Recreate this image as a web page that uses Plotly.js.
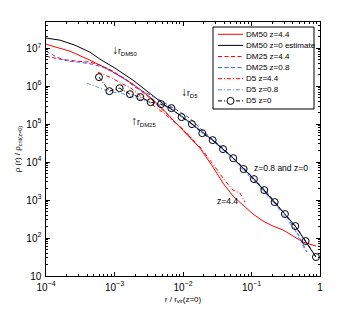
<!DOCTYPE html>
<html><head><meta charset="utf-8">
<script src="https://cdn.plot.ly/plotly-3.0.1.min.js"></script>
<style>html,body{margin:0;padding:0;background:#fff}#c{width:353px;height:311px}</style>
</head><body><div id="c"></div>
<script>
// ---- data (r / r_vir(z=0), rho / rho_crit(z=0)) ----
const dm50z44_x = [1e-4,2.24e-4,4.39e-4,8.59e-4,1.86e-3,3.30e-3,4.61e-3,1.0e-2,1.77e-2,2.74e-2,3.84e-2,5.37e-2,7.52e-2,0.1052,0.1472,0.2061,0.2884,0.4036,0.5649,0.875];
const dm50z44_y = [1.27e7,8.34e6,4.83e6,2.64e6,1.13e6,5.14e5,2.98e5,6.95e4,2.33e4,7.38e3,2.80e3,1.27e3,7.38e2,4.29e2,2.80e2,2.07e2,1.63e2,1.13e2,78.5,61.5];

const dm50z0_x = [1e-4,1.6e-4,2.65e-4,4.39e-4,6.14e-4,1.02e-3,1.86e-3,3.30e-3,5.46e-3,9.04e-3,1.37e-2,2.71e-2,5.42e-2,0.1086,0.2178,0.4355,0.873];
const dm50z0_y = [1.85e7,1.63e7,1.20e7,7.85e6,5.14e6,2.98e6,1.44e6,6.55e5,3.16e5,1.73e5,1.0e5,3.79e4,1.27e4,3.57e3,8.85e2,2.07e2,31.6];

const dm25z44_x = [1e-4,1.6e-4,2.84e-4,4.39e-4,6.14e-4,8.89e-4,1.38e-3,1.93e-3,3.30e-3,5.46e-3,1.0e-2,1.50e-2];
const dm25z44_y = [6.15e6,5.14e6,4.55e6,4.29e6,3.57e6,2.64e6,1.63e6,1.06e6,4.83e5,2.07e5,6.95e4,3.36e4];

const dm25z08_x = [1e-4,1.45e-4,2.09e-4,3.13e-4,4.70e-4,6.79e-4,9.50e-4,1.42e-3,1.99e-3,2.79e-3,4.61e-3,8.17e-3,1.26e-2,1.96e-2,3.84e-2,7.78e-2,0.1574,0.3083,0.4613,0.6457];
const dm25z08_y = [8.34e6,5.79e6,4.55e6,4.29e6,3.79e6,3.16e6,2.33e6,1.53e6,9.42e5,6.95e5,4.29e5,2.33e5,1.44e5,6.55e4,2.33e4,6.95e3,1.83e3,4.29e2,1.44e2,42.9];

const d5z44_x = [5.74e-4,9.20e-4,1.24e-3,1.74e-3,2.44e-3,3.52e-3,5.46e-3,1.0e-2,1.77e-2,2.74e-2,3.84e-2,5.37e-2,6.79e-2,8.04e-2];
const d5z44_y = [2.33e6,1.63e6,1.20e6,8.85e5,5.46e5,3.36e5,1.83e5,7.38e4,2.48e4,8.85e3,3.79e3,1.83e3,1.53e3,8.85e2];

const d5z08_x = [3.97e-4,6.35e-4,8.89e-4,1.24e-3,1.74e-3,2.44e-3,3.52e-3,4.93e-3,6.90e-3,9.66e-3,1.40e-2,2.74e-2,5.37e-2,0.1086,0.2203,0.4315,0.6252];
const d5z08_y = [1.20e6,8.85e5,6.95e5,6.55e5,5.46e5,4.55e5,3.57e5,3.16e5,2.48e5,1.53e5,9.42e4,3.57e4,1.20e4,3.16e3,7.85e2,1.63e2,42.9];

const d5z0_x = [5.94e-4,8.41e-4,1.19e-3,1.68e-3,2.38e-3,3.37e-3,4.78e-3,6.76e-3,9.55e-3,1.35e-2,1.91e-2,2.71e-2,3.84e-2,5.42e-2,7.67e-2,0.1086,0.1538,0.2178,0.3076,0.4355,0.6166,0.873];
const d5z0_y = [1.73e6,7.38e5,8.85e5,6.15e5,5.14e5,3.79e5,3.36e5,2.64e5,1.53e5,1.0e5,5.79e4,3.79e4,2.20e4,1.27e4,6.55e3,3.57e3,1.83e3,8.85e2,4.29e2,2.07e2,83.4,31.6];

const seriesNames = ['DM50 z=4.4','DM50 z=0 estimate','DM25 z=4.4','DM25 z=0.8','D5 z=4.4','D5 z=0.8','D5 z=0'];

// ---- styles ----
const DASH = '4px,2.5px';
const DASHDOT = '4px,2px,1px,2px';
const styles = [
  {color:'#ff0000', dash:'solid'},
  {color:'#000000', dash:'solid'},
  {color:'#ff0000', dash:DASH},
  {color:'#3355ff', dash:DASH},
  {color:'#ff0000', dash:DASHDOT},
  {color:'#6688ff', dash:DASHDOT},
  {color:'#000000', dash:DASHDOT, marker:true}
];
const xs = [dm50z44_x,dm50z0_x,dm25z44_x,dm25z08_x,d5z44_x,d5z08_x,d5z0_x];
const ys = [dm50z44_y,dm50z0_y,dm25z44_y,dm25z08_y,d5z44_y,d5z08_y,d5z0_y];

const traces = seriesNames.map((n,i)=>{
  const s = styles[i];
  const t = {x:xs[i], y:ys[i], name:n, type:'scatter', showlegend:false,
    mode: s.marker ? 'lines+markers' : 'lines',
    line:{color:s.color, width:1, dash:s.dash}};
  if (s.marker) t.marker = {symbol:'circle-open', size:7, color:'#000', line:{width:1, color:'#000'}};
  return t;
});

// ---- layout geometry ----
const W=353,H=311, L=46, R=33, T=22, B=35;
const pw = W-L-R, ph = H-T-B;
const xp = px => (px-L)/pw;
const yp = py => (H-B-py)/ph;
const FONT = 'Liberation Sans, Arial, Helvetica, sans-serif';

// manual legend (drawn as shapes + text)
const shapes = [];
const annotations = [];
shapes.push({type:'rect', xref:'paper', yref:'paper', x0:xp(213), x1:xp(314), y0:yp(109), y1:yp(27),
  line:{color:'#000', width:1}, fillcolor:'#fff', layer:'above'});
seriesNames.forEach((n,i)=>{
  const s = styles[i];
  const cy = 34.3 + i*11.1;
  shapes.push({type:'line', xref:'paper', yref:'paper', x0:xp(218), x1:xp(243), y0:yp(cy), y1:yp(cy),
    line:{color:s.color, width:1, dash:s.dash}, layer:'above'});
  if (s.marker) {
    shapes.push({type:'circle', xref:'paper', yref:'paper', x0:xp(227), x1:xp(234), y0:yp(cy+3.5), y1:yp(cy-3.5),
      line:{color:'#000', width:1}, fillcolor:'#fff', layer:'above'});
  }
  annotations.push({xref:'paper', yref:'paper', x:xp(244), y:yp(cy), text:n, showarrow:false,
    xanchor:'left', yanchor:'middle', font:{family:FONT, size:8, color:'#000'}});
});

// text labels on the plot (log10 coordinates for log axes)
const ARW = t => '<span style="font-size:12px">'+t+'</span>';
const labels = [
  {x:-3.06, y:6.95, t:ARW('↓')+'r<sub>DM50</sub>'},
  {x:-2.06, y:5.84, t:ARW('↓')+'r<sub>D5</sub>'},
  {x:-2.79, y:5.07, t:ARW('↑')+'r<sub>DM25</sub>'},
  {x:-0.99, y:3.84, t:'z=0.8 and z=0'},
  {x:-1.54, y:2.97, t:'z=4.4'}
];
labels.forEach(a=>annotations.push({xref:'x', yref:'y', x:a.x, y:a.y, text:a.t, showarrow:false,
  xanchor:'left', yanchor:'middle', font:{family:FONT, size:8.5, color:'#000'}}));

const axisCommon = {type:'log', showgrid:false, zeroline:false, showline:true, linecolor:'#000', linewidth:1,
  mirror:'allticks', ticks:'inside', ticklen:4, tickcolor:'#000', dtick:1, exponentformat:'power',
  tickfont:{family:FONT, size:8, color:'#000'},
  minor:{ticks:'inside', ticklen:2, tickcolor:'#000', dtick:'D1', showgrid:false}};

const layout = {
  width:W, height:H, margin:{l:L, r:R, t:T, b:B, pad:0},
  paper_bgcolor:'#fff', plot_bgcolor:'#fff', showlegend:false,
  font:{family:FONT, size:8, color:'#000'},
  xaxis:Object.assign({}, axisCommon, {range:[-4,0], ticklabelstandoff:2,
    title:{text:'r / r<sub>vir</sub>(z=0)', font:{family:FONT, size:8, color:'#000'}, standoff:4}}),
  yaxis:Object.assign({}, axisCommon, {range:[1,7.69], ticklabelstandoff:2,
    title:{text:'ρ (r) / ρ<sub>crit(z=0)</sub>', font:{family:FONT, size:8, color:'#000'}, standoff:4}}),
  shapes:shapes, annotations:annotations
};
Plotly.newPlot('c', traces, layout, {staticPlot:true, displayModeBar:false});
</script></body></html>
